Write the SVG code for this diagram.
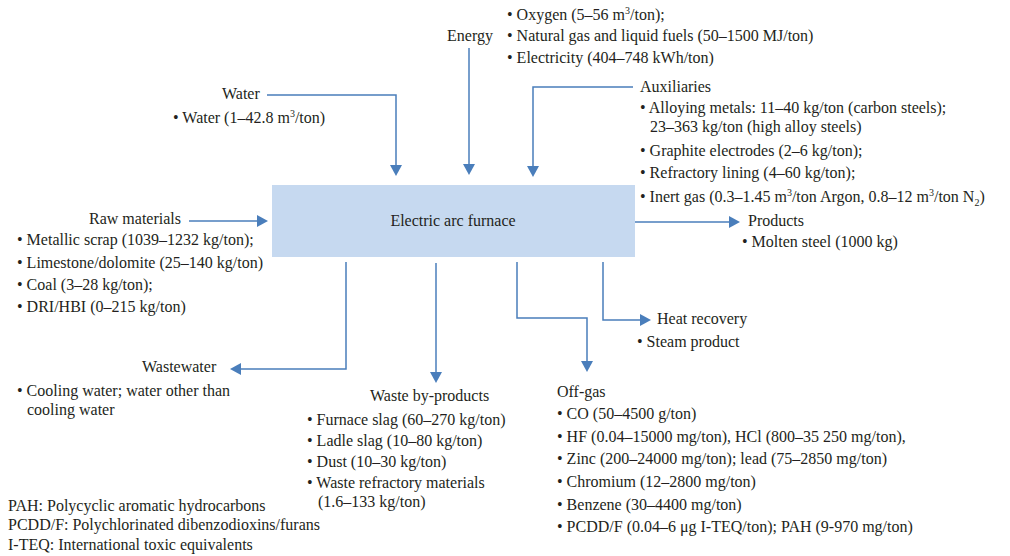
<svg xmlns="http://www.w3.org/2000/svg" width="1010" height="556" viewBox="0 0 1010 556">
  <defs>
    <marker id="arr" markerWidth="11" markerHeight="12" refX="1" refY="6" orient="auto" markerUnits="userSpaceOnUse">
      <path d="M0,0 L11,6 L0,12 z" fill="#4a7ebb"/>
    </marker>
    <style>
      text { font-family: "Liberation Serif", "Times New Roman", serif; font-size: 16px; fill: #231f20; }
      .sup { font-size: 10px; }
      .flow { fill: none; stroke: #4a7ebb; stroke-width: 1.5; marker-end: url(#arr); }
    </style>
  </defs>
  <rect width="1010" height="556" fill="#ffffff"/>

  <!-- central process -->
  <g id="furnace">
    <rect x="272" y="185" width="363" height="72" fill="#c6d9f0"/>
    <text x="453" y="226" text-anchor="middle">Electric arc furnace</text>
  </g>

  <!-- flows -->
  <g id="connectors">
    <path class="flow" d="M267,95 H396 V166"/>
    <path class="flow" d="M469,48 V165"/>
    <path class="flow" d="M633,87 H533 V167"/>
    <path class="flow" d="M189,221 H258"/>
    <path class="flow" d="M635,222 H730"/>
    <path class="flow" d="M346,262 V369 H240"/>
    <path class="flow" d="M436,263 V373"/>
    <path class="flow" d="M517,262 V318 H587 V362"/>
    <path class="flow" d="M603,262 V320 H641"/>
  </g>

  <g id="energy">
    <text x="447" y="41">Energy</text>
    <text x="507" y="20">• Oxygen (5–56 m<tspan class="sup" dy="-6">3</tspan><tspan dy="6">/ton);</tspan></text>
    <text x="507" y="41">• Natural gas and liquid fuels (50–1500 MJ/ton)</text>
    <text x="507" y="63">• Electricity (404–748 kWh/ton)</text>
  </g>

  <g id="water">
    <text x="222" y="99">Water</text>
    <text x="173" y="123">• Water (1–42.8 m<tspan class="sup" dy="-6">3</tspan><tspan dy="6">/ton)</tspan></text>
  </g>

  <g id="auxiliaries">
    <text x="640" y="92">Auxiliaries</text>
    <text x="640" y="113">• Alloying metals: 11–40 kg/ton (carbon steels);</text>
    <text x="650" y="132">23–363 kg/ton (high alloy steels)</text>
    <text x="640" y="156">• Graphite electrodes (2–6 kg/ton);</text>
    <text x="640" y="178">• Refractory lining (4–60 kg/ton);</text>
    <text x="640" y="202">• Inert gas (0.3–1.45 m<tspan class="sup" dy="-6">3</tspan><tspan dy="6">/ton Argon, 0.8–12 m</tspan><tspan class="sup" dy="-6">3</tspan><tspan dy="6">/ton N</tspan><tspan class="sup" dy="4">2</tspan><tspan dy="-4">)</tspan></text>
  </g>

  <g id="raw-materials">
    <text x="89" y="224">Raw materials</text>
    <text x="17" y="245">• Metallic scrap (1039–1232 kg/ton);</text>
    <text x="17" y="268">• Limestone/dolomite (25–140 kg/ton)</text>
    <text x="17" y="290">• Coal (3–28 kg/ton);</text>
    <text x="17" y="312">• DRI/HBI (0–215 kg/ton)</text>
  </g>

  <g id="products">
    <text x="748" y="226">Products</text>
    <text x="742" y="247">• Molten steel (1000 kg)</text>
  </g>

  <g id="heat-recovery">
    <text x="657" y="324">Heat recovery</text>
    <text x="637" y="347">• Steam product</text>
  </g>

  <g id="wastewater">
    <text x="142" y="372">Wastewater</text>
    <text x="17" y="396">• Cooling water; water other than</text>
    <text x="27" y="415">cooling water</text>
  </g>

  <g id="waste-by-products">
    <text x="370" y="401">Waste by-products</text>
    <text x="307" y="425">• Furnace slag (60–270 kg/ton)</text>
    <text x="307" y="446">• Ladle slag (10–80 kg/ton)</text>
    <text x="307" y="467">• Dust (10–30 kg/ton)</text>
    <text x="307" y="488">• Waste refractory materials</text>
    <text x="318" y="507">(1.6–133 kg/ton)</text>
  </g>

  <g id="off-gas">
    <text x="557" y="397">Off-gas</text>
    <text x="557" y="419">• CO (50–4500 g/ton)</text>
    <text x="557" y="442">• HF (0.04–15000 mg/ton), HCl (800–35 250 mg/ton),</text>
    <text x="557" y="464">• Zinc (200–24000 mg/ton); lead (75–2850 mg/ton)</text>
    <text x="557" y="487">• Chromium (12–2800 mg/ton)</text>
    <text x="557" y="510">• Benzene (30–4400 mg/ton)</text>
    <text x="557" y="532">• PCDD/F (0.04–6 μg I-TEQ/ton); PAH (9-970 mg/ton)</text>
  </g>

  <g id="abbreviations">
    <text x="8" y="511">PAH: Polycyclic aromatic hydrocarbons</text>
    <text x="8" y="530">PCDD/F: Polychlorinated dibenzodioxins/furans</text>
    <text x="8" y="550">I-TEQ: International toxic equivalents</text>
  </g>
</svg>
